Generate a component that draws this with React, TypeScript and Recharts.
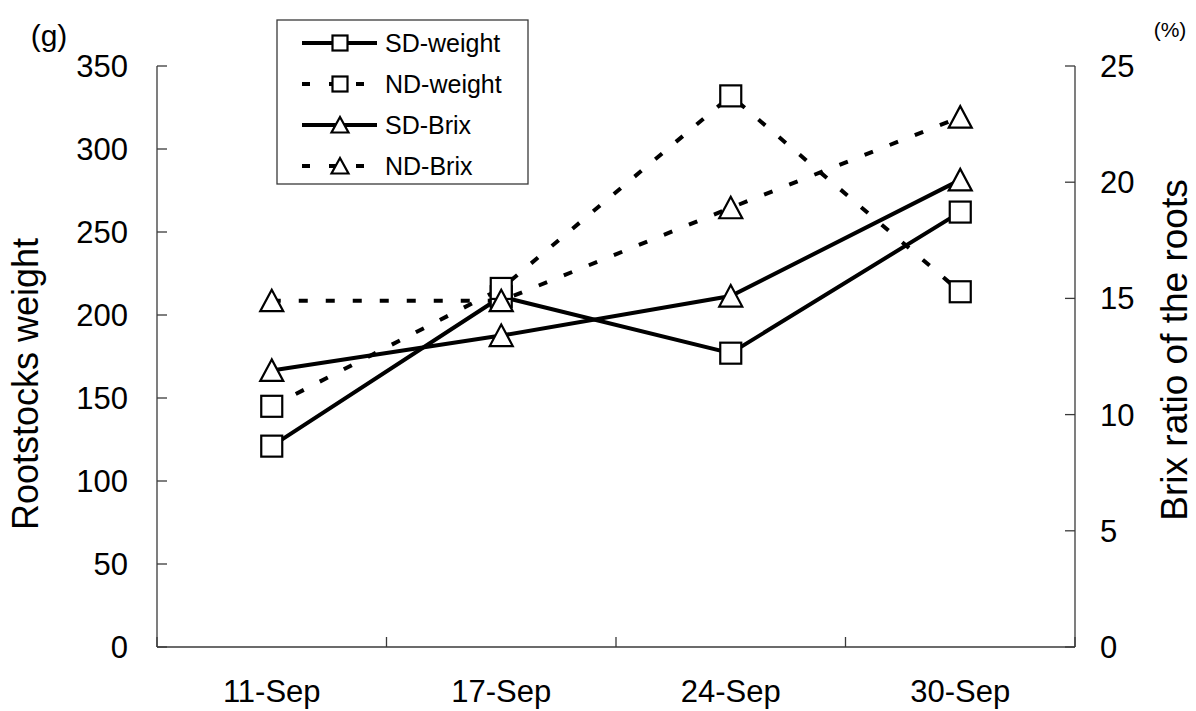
import React from "react";
import { LineChart, Line, XAxis, YAxis } from "recharts";

// sampling dates and measured values
const dates = ["11-Sep", "17-Sep", "24-Sep", "30-Sep"];
const sdWeight = [121, 211, 177, 262];
const ndWeight = [145, 216, 332, 214];
const sdBrix = [11.9, 13.4, 15.1, 20.1];
const ndBrix = [14.9, 14.9, 18.9, 22.8];

const weightTicks = [0, 50, 100, 150, 200, 250, 300, 350];
const brixTicks = [0, 5, 10, 15, 20, 25];
// category boundaries get tick marks, centres get the date labels
const xTicks = [0, 0.5, 1, 1.5, 2, 2.5, 3, 3.5, 4];

const FONT = "'Liberation Sans', Arial, sans-serif";
const AXIS = "#3a3a3a";
const X_TICK_MARGIN = 33;
const DASH = "9 18";

const rows = dates.map((date, i) => ({
  pos: i + 0.5,
  date,
  sdWeight: sdWeight[i],
  ndWeight: ndWeight[i],
  sdBrix: sdBrix[i],
  ndBrix: ndBrix[i],
}));

type Marker = "square" | "triangle";

const series: { key: string; name: string; axis: string; dashed: boolean; marker: Marker }[] = [
  { key: "sdWeight", name: "SD-weight", axis: "weight", dashed: false, marker: "square" },
  { key: "ndWeight", name: "ND-weight", axis: "weight", dashed: true, marker: "square" },
  { key: "sdBrix", name: "SD-Brix", axis: "brix", dashed: false, marker: "triangle" },
  { key: "ndBrix", name: "ND-Brix", axis: "brix", dashed: true, marker: "triangle" },
];

function MarkerShape({ type, cx, cy, size }: { type: Marker; cx: number; cy: number; size: number }) {
  const h = size / 2;
  if (type === "square") {
    return (
      <rect x={cx - h} y={cy - h} width={size} height={size} fill="#fff" stroke="#000" strokeWidth={2.2} />
    );
  }
  const pts = `${cx},${cy - h - 0.5} ${cx - h - 1},${cy + h} ${cx + h + 1},${cy + h}`;
  return <polygon points={pts} fill="#fff" stroke="#000" strokeWidth={2.2} strokeLinejoin="miter" />;
}

const XTick = (props: any) => {
  const { x, y, payload } = props;
  const v = payload.value as number;
  if (Number.isInteger(v)) {
    const base = y - X_TICK_MARGIN;
    return <line x1={x} x2={x} y1={base} y2={base - 10} stroke={AXIS} strokeWidth={1.3} />;
  }
  return (
    <text x={x} y={y} dy="0.71em" textAnchor="middle" fontSize={31} fill="#000" fontFamily={FONT}>
      {dates[Math.floor(v)]}
    </text>
  );
};

function LegendBox() {
  const rowsY = [43, 84, 125, 166];
  return (
    <g>
      <rect x={277} y={20} width={251} height={164} fill="#fff" stroke={AXIS} strokeWidth={1.3} />
      {series.map((s, i) => (
        <g key={s.key}>
          <line
            x1={302}
            x2={377}
            y1={rowsY[i]}
            y2={rowsY[i]}
            stroke="#000"
            strokeWidth={4}
            strokeDasharray={s.dashed ? "8 19" : undefined}
          />
          <MarkerShape type={s.marker} cx={340} cy={rowsY[i]} size={15} />
          <text x={385} y={rowsY[i]} dy="0.35em" fontSize={25} fill="#000" fontFamily={FONT}>
            {s.name}
          </text>
        </g>
      ))}
    </g>
  );
}

export default function App() {
  return (
    <div style={{ position: "absolute", left: 0, top: 0, width: 1196, height: 711, background: "#fff", fontFamily: FONT }}>
      <LineChart width={1196} height={711} data={rows} margin={{ top: 66, right: 0, bottom: 0, left: 0 }}>
        <XAxis
          dataKey="pos"
          type="number"
          domain={[0, 4]}
          ticks={xTicks}
          interval={0}
          height={64}
          tickLine={false}
          tickSize={0}
          tickMargin={X_TICK_MARGIN}
          axisLine={{ stroke: AXIS, strokeWidth: 1.3 }}
          tick={<XTick />}
        />
        <YAxis
          yAxisId="weight"
          orientation="left"
          width={157}
          domain={[0, 350]}
          ticks={weightTicks}
          interval={0}
          tickSize={-10}
          tickMargin={39}
          axisLine={{ stroke: AXIS, strokeWidth: 1.3 }}
          tickLine={{ stroke: AXIS, strokeWidth: 1.3 }}
          tick={{ fontSize: 31, fill: "#000", fontFamily: FONT }}
        />
        <YAxis
          yAxisId="brix"
          orientation="right"
          width={121}
          domain={[0, 25]}
          ticks={brixTicks}
          interval={0}
          tickSize={-10}
          tickMargin={35}
          axisLine={{ stroke: AXIS, strokeWidth: 1.3 }}
          tickLine={{ stroke: AXIS, strokeWidth: 1.3 }}
          tick={{ fontSize: 31, fill: "#000", fontFamily: FONT }}
        />
        {series.map((s) => (
          <Line
            key={s.key}
            yAxisId={s.axis}
            dataKey={s.key}
            name={s.name}
            type="linear"
            stroke="#000"
            strokeWidth={4}
            strokeDasharray={s.dashed ? DASH : undefined}
            isAnimationActive={false}
            dot={(p: any) => (
              <MarkerShape key={`${s.key}-${p.index}`} type={s.marker} cx={p.cx} cy={p.cy} size={21} />
            )}
            activeDot={false}
          />
        ))}
      </LineChart>
      <svg
        width={1196}
        height={711}
        style={{ position: "absolute", left: 0, top: 0, pointerEvents: "none" }}
        fontFamily={FONT}
      >
        <text x={49} y={46} textAnchor="middle" fontSize={30} fill="#000">(g)</text>
        <text x={1170} y={37} textAnchor="middle" fontSize={21} fill="#000">(%)</text>
        <text
          transform="translate(38,384) rotate(-90)"
          textAnchor="middle"
          fontSize={36}
          fill="#000"
        >
          Rootstocks weight
        </text>
        <text
          transform="translate(1187,350) rotate(-90)"
          textAnchor="middle"
          fontSize={37}
          fill="#000"
        >
          Brix ratio of the roots
        </text>
        <LegendBox />
      </svg>
    </div>
  );
}
